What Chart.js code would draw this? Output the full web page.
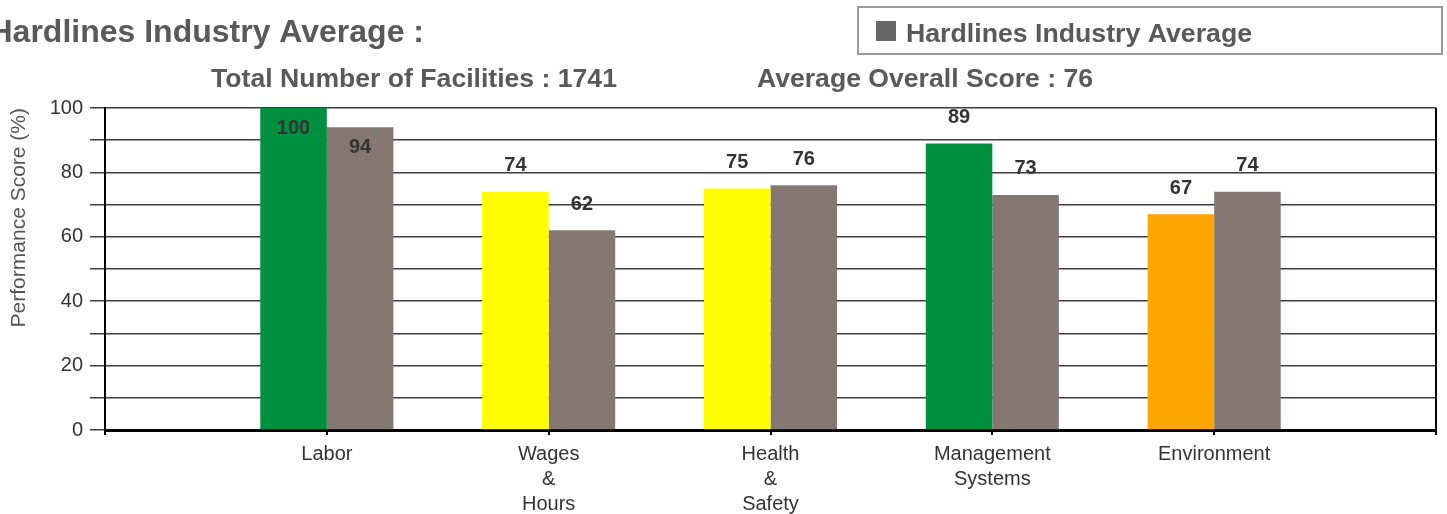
<!DOCTYPE html>
<html>
<head>
<meta charset="utf-8">
<script src="https://cdn.jsdelivr.net/npm/chart.js@4/dist/chart.umd.min.js"></script>
<style>
  html, body { margin: 0; padding: 0; background: #fff; }
  #wrap { width: 1447px; height: 514px; position: relative; }
</style>
</head>
<body>
<div id="wrap"><canvas id="scoreChart" width="1447" height="514"></canvas></div>
<script>
const categories = [['Labor'], ['Wages', '&', 'Hours'], ['Health', '&', 'Safety'], ['Management', 'Systems'], ['Environment']];
const facilityScores = [100, 74, 75, 89, 67];
const facilityColors = ['#009140', '#ffff00', '#ffff00', '#009140', '#ffa500'];
const industryScores = [94, 62, 76, 73, 74];
const yTicks = [0, 20, 40, 60, 80, 100];

const chartTitle = 'Hardlines Industry Average :';
const facilitiesText = 'Total Number of Facilities : 1741';
const overallText = 'Average Overall Score : 76';
const FONT = '"Liberation Sans", Arial, sans-serif';

// empty slots at both ends, the axis runs one category past each side
const labels = [''].concat(categories, ['']);
const pad = arr => [null].concat(arr, [null]);

// title, sub headings and the boxed legend
const headerPlugin = {
    id: 'header',
    afterDraw(chart) {
        const ctx = chart.ctx;
        ctx.save();
        ctx.fillStyle = '#595959';
        ctx.textBaseline = 'alphabetic';
        ctx.font = 'bold 32px ' + FONT;
        ctx.textAlign = 'right';
        ctx.fillText(chartTitle, 424, 42);

        ctx.font = 'bold 26.6px ' + FONT;
        ctx.textAlign = 'center';
        ctx.fillText(facilitiesText, 414, 87);
        ctx.fillText(overallText, 925, 87);

        // legend box
        ctx.strokeStyle = '#9a9a9a';
        ctx.lineWidth = 2;
        ctx.strokeRect(858, 7, 584, 47);
        ctx.fillStyle = '#666666';
        ctx.fillRect(876, 21, 20, 20);
        ctx.fillStyle = '#595959';
        ctx.textAlign = 'left';
        ctx.font = 'bold 26.7px ' + FONT;
        ctx.fillText(chart.data.datasets[1].label, 906, 42);
        ctx.restore();
    }
};

// right hand frame line
const framePlugin = {
    id: 'frame',
    afterDraw(chart) {
        const { ctx, chartArea } = chart;
        ctx.save();
        ctx.strokeStyle = '#000';
        ctx.lineWidth = 2;
        ctx.beginPath();
        ctx.moveTo(chartArea.right, chartArea.top);
        ctx.lineTo(chartArea.right, chartArea.bottom + 5);
        ctx.stroke();
        ctx.restore();
    }
};

// value labels above the bars, inside them when there is no room
const valuePlugin = {
    id: 'values',
    afterDatasetsDraw(chart) {
        const { ctx, chartArea } = chart;
        ctx.save();
        ctx.font = 'bold 20px ' + FONT;
        ctx.fillStyle = '#333';
        ctx.textAlign = 'center';
        ctx.textBaseline = 'middle';
        chart.data.datasets.forEach((ds, i) => {
            chart.getDatasetMeta(i).data.forEach((bar, j) => {
                const v = ds.data[j];
                if (v === null) return;
                let y = bar.y - 26;
                if (y < chartArea.top + 5) y = bar.y + 20;
                ctx.fillText(String(v), bar.x, y);
            });
        });
        ctx.restore();
    }
};

new Chart(document.getElementById('scoreChart'), {
    type: 'bar',
    data: {
        labels: labels,
        datasets: [{
            label: 'Facility Score',
            data: pad(facilityScores),
            backgroundColor: pad(facilityColors),
            borderWidth: 0
        }, {
            label: 'Hardlines Industry Average',
            data: pad(industryScores),
            backgroundColor: '#857873',
            borderWidth: 0
        }]
    },
    options: {
        responsive: false,
        animation: false,
        layout: { padding: { top: 108, right: 11, left: 0, bottom: 0 } },
        categoryPercentage: 0.6,
        barPercentage: 1.0,
        plugins: {
            legend: { display: false },
            tooltip: { enabled: false }
        },
        scales: {
            x: {
                offset: false,
                afterFit(scale) { scale.height = 84; },
                grid: { display: true, offset: false, drawOnChartArea: false, drawTicks: true, tickLength: 5, color: '#000', lineWidth: 2 },
                border: { color: '#000', width: 3 },
                ticks: {
                    autoSkip: false,
                    maxRotation: 0,
                    padding: 7,
                    color: '#333',
                    font: { family: FONT, size: 20, lineHeight: 1.25 }
                }
            },
            y: {
                min: 0,
                max: 100,
                afterFit(scale) { scale.width = 105; },
                grid: { color: '#3c3c3c', lineWidth: 1.5, tickLength: 15 },
                border: { color: '#000', width: 2 },
                ticks: {
                    stepSize: 10,
                    padding: 7,
                    color: '#333',
                    font: { family: FONT, size: 20 },
                    callback: v => yTicks.includes(v) ? v : ''
                },
                title: {
                    display: true,
                    text: 'Performance Score (%)',
                    align: 'end',
                    color: '#555',
                    padding: { top: 7, bottom: 0 },
                    font: { family: FONT, size: 21 }
                }
            }
        }
    },
    plugins: [headerPlugin, framePlugin, valuePlugin]
});
</script>
</body>
</html>
